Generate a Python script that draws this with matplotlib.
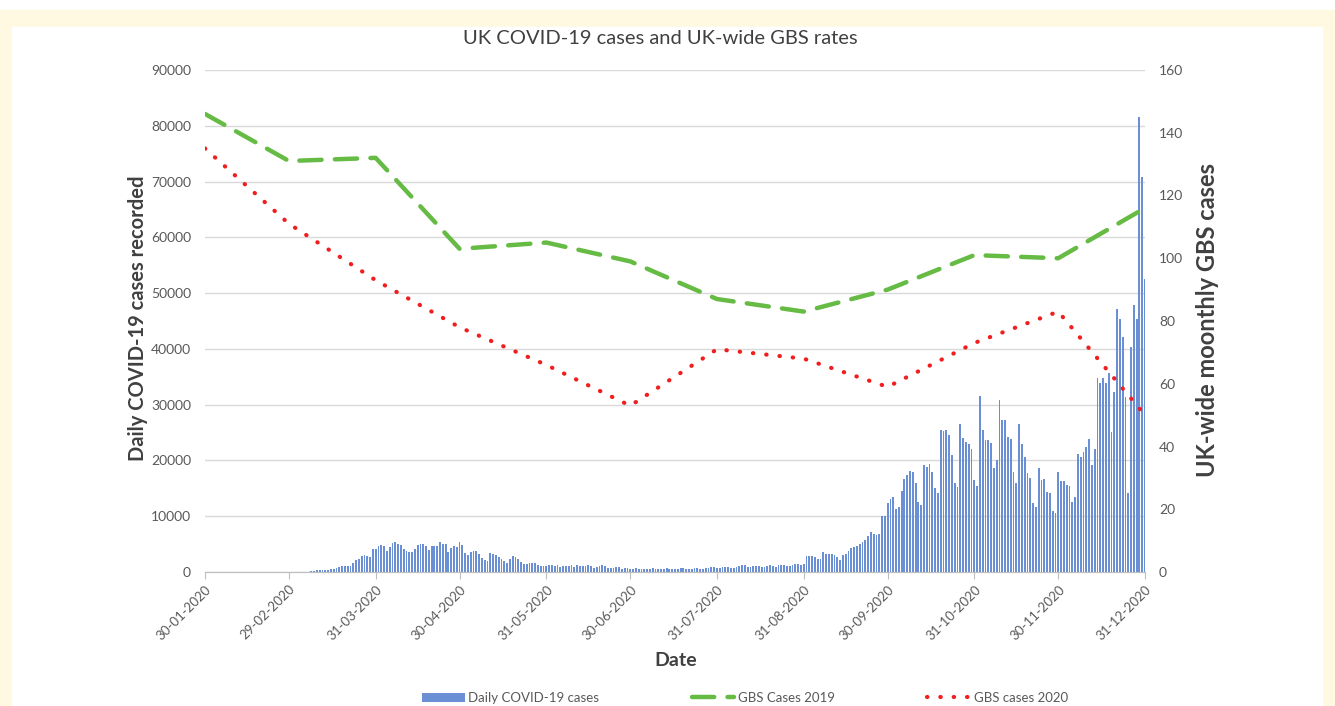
# -*- coding: utf-8 -*-
"""
UK COVID-19 daily cases (bars) with UK-wide monthly GBS cases 2019 / 2020
"""

import matplotlib
matplotlib.use('Agg')
import matplotlib.pyplot as plt
from matplotlib.patches import Rectangle
import pandas as pd

plt.rcParams['font.family'] = ['Lato', 'DejaVu Sans']

#----------------------------------------------------------------------------------------------------
# data
#----------------------------------------------------------------------------------------------------
# daily cases, one value per day from 30-01-2020 to 31-12-2020
daily_cases = [
    # 30-01 .. 29-02
    0, 0, 0, 0, 0, 0, 0, 0, 0, 0, 0, 0, 0, 0, 0, 0, 0, 0, 0, 0,
    0, 0, 0, 0, 0, 0, 2, 3, 4, 5, 8,
    # march
    10, 15, 20, 30, 45, 60, 80, 100, 150,
    300, 350, 400, 350, 420, 500, 450,
    660, 900, 1000, 1050, 1100, 1000, 1700, 2100, 2300, 2800, 3000, 2800, 2600,
    # end of march / april
    4100, 4200, 4600, 4800, 4700, 3800, 4400, 5200, 5300, 5100,
    4800, 4100, 3700, 3500, 3600, 4200, 4900, 5100, 5000, 4600,
    3900, 4600, 4700, 4700, 5400, 5100, 5000, 3500, 4300, 4600,
    4500, 5300, 4800, 3400, 3100, 3600, 3800, 3700, 3200, 2500,
    # may
    2100, 2000, 3400, 3300, 3100, 2600, 2400, 2000, 1700, 2400,
    2800, 2600, 2300, 1800, 1400, 1500, 1600, 1700, 1600, 1300,
    1100, 1000, 1000, 1200, 1300, 1100, 1200, 900, 1000, 1100,
    # june
    1000, 1200, 900, 1200, 1000, 1100, 1100, 1200, 1000, 800,
    900, 1000, 1200, 1100, 800, 750, 700, 900, 850, 600,
    650, 700, 600, 550, 650, 600, 500, 450, 550, 600,
    # july
    650, 550, 500, 450, 600, 650, 550, 500, 450, 600,
    650, 700, 550, 500, 600, 700, 650, 600, 550, 700,
    750, 850, 900, 700, 650, 850, 900, 950, 800, 700,
    # august
    900, 1000, 1250, 1200, 950, 850, 1000, 1100, 1050, 900,
    850, 1100, 1200, 1000, 950, 1250, 1300, 1200, 1000, 1100,
    1300, 1400, 1500, 1200, 1400,
    # september
    2900, 2900, 2800, 2700, 2300, 2300, 3600, 3300, 3200, 3300, 3100, 2600, 2100, 3100, 3200,
    3700, 4300, 4500, 4700, 5000, 5400, 5800, 6400, 7200, 6900, 6700, 6800, 10000, 10000,
    # october
    12400, 13100, 13500, 11300, 11600, 14500, 16700, 17400, 18100, 18000, 16000, 12600, 12000,
    19200, 18800, 19300,
    18000, 15000, 14200, 25500, 25300, 25400, 24500, 21000, 16000, 15300, 26600, 24000, 23300,
    23000, 22000,
    # november
    16500, 15400, 31500, 25500, 23700, 23700, 23200, 18700, 20000, 30800, 27200, 27200, 24200,
    23900, 18000, 15900, 26600, 23000, 20700, 17700, 16800, 12300, 11700, 18700, 16500, 16600,
    14400, 14200, 10900, 10500,
    # december
    18000, 16300, 16300, 15600, 15500, 12600, 13500, 21100, 20700, 21600, 22400, 23900, 19200,
    22000,
    34700, 33800, 34700, 33800, 35600, 25100, 32300, 47200, 45400, 42100, 31400, 14100, 40400,
    47800, 45400, 81500, 70800, 52600,
]

# monthly GBS points
month_points = ['2020-01-30', '2020-02-29', '2020-03-31', '2020-04-30', '2020-05-31', '2020-06-30',
                '2020-07-31', '2020-08-31', '2020-09-30', '2020-10-31', '2020-11-30', '2020-12-31']
gbs_2019 = [146, 131, 132, 103, 105, 99, 87, 83, 90, 101, 100, 116]
gbs_2020 = [135, 111, 93, 78, 66, 53, 71, 68, 59, 73, 83, 50]

tick_labels = ['30-01-2020', '29-02-2020', '31-03-2020', '30-04-2020', '31-05-2020', '30-06-2020',
               '31-07-2020', '31-08-2020', '30-09-2020', '31-10-2020', '30-11-2020', '31-12-2020']

days = pd.date_range('2020-01-30', '2020-12-31', freq='D')
month_dates = pd.to_datetime(month_points)

#----------------------------------------------------------------------------------------------------
# figure
#----------------------------------------------------------------------------------------------------
W, H = 1335, 706
fig = plt.figure(figsize=(W / 100, H / 100), dpi=100)
fig.patch.set_facecolor('white')
fig.patches.append(Rectangle((0, 0), 1, 1 - 10 / H, transform=fig.transFigure,
                             color='#FFF9E1', zorder=-3))
fig.patches.append(Rectangle((12 / W, 0), (1322 - 12) / W, 1 - 27 / H, transform=fig.transFigure,
                             color='white', zorder=-2))

ax = fig.add_axes([205 / W, (H - 572) / H, 940 / W, 502 / H])
ax.set_facecolor('none')
bars = ax.bar(days, daily_cases, width=0.65, color='#6A8FD4', label='Daily COVID-19 cases')

ax2 = ax.twinx()
l19, = ax2.plot(month_dates, gbs_2019, color='#66BB44', lw=3.2, dashes=(5, 3),
                dash_capstyle='round', label='GBS Cases 2019')
l20, = ax2.plot(month_dates, gbs_2020, color='#F01E1E', lw=3.0, linestyle=(0, (0.1, 3.1)),
                dash_capstyle='round', label='GBS cases 2020')

ax.set_xlim(days[0], days[-1])
ax.set_ylim(0, 90000)
ax2.set_ylim(0, 160)
ax.set_yticks(range(0, 90001, 10000))
ax2.set_yticks(range(0, 161, 20))

ax.yaxis.grid(True, color='#D9D9D9', lw=1)
ax.set_axisbelow(True)

for a in (ax, ax2):
    for s in ('top', 'left', 'right'):
        a.spines[s].set_visible(False)
    a.spines['bottom'].set_color('#BFBFBF')
    a.tick_params(axis='y', length=0, pad=10, labelsize=10, labelcolor='#595959')

ax.set_xticks(month_dates)
ax.set_xticklabels(tick_labels, rotation=45, ha='right', rotation_mode='anchor',
                   fontsize=9.5, color='#595959')
ax.tick_params(axis='x', length=5, color='#BFBFBF', pad=3)

ax.set_ylabel('Daily COVID-19 cases recorded', fontsize=14.5, fontweight='bold', color='#404040')
ax.yaxis.set_label_coords((148 - 205) / 940, 0.506)
ax2.set_ylabel('UK-wide moonthly GBS cases', fontsize=17, fontweight='bold', color='#404040')
ax2.yaxis.set_label_coords((1196 - 205) / 940, 0.502)

fig.text(660 / W, 1 - 38 / H, 'UK COVID-19 cases and UK-wide GBS rates', ha='center', va='center',
         fontsize=14.5, color='#404040')
fig.text(676 / W, 1 - 661 / H, 'Date', ha='center', va='center', fontsize=14, fontweight='bold',
         color='#404040')

fig.legend([bars, l19, l20], ['Daily COVID-19 cases', 'GBS Cases 2019', 'GBS cases 2020'],
           loc='center', bbox_to_anchor=(745 / W, 1 - 698 / H), ncol=3, frameon=False,
           fontsize=9.5, labelcolor='#595959', handlelength=3.2, handletextpad=0.3,
           columnspacing=7)

fig.savefig('out.png', dpi=100)
